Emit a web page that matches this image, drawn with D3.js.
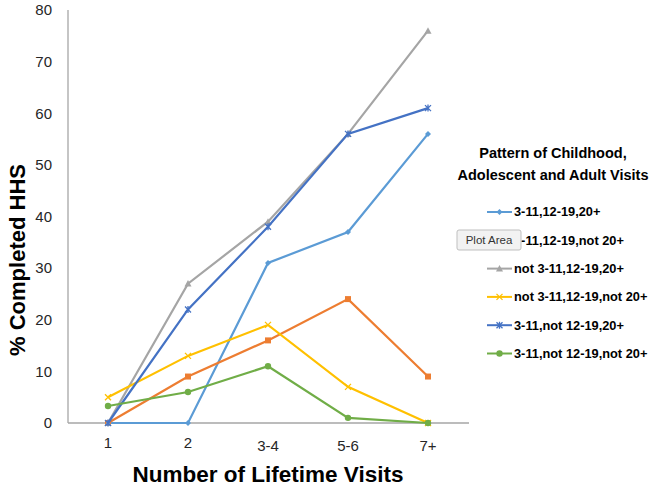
<!DOCTYPE html>
<html><head><meta charset="utf-8">
<script src="https://cdn.jsdelivr.net/npm/d3@7"></script>
<style>body{margin:0;background:#fff;} svg{display:block;font-family:"Liberation Sans",Arial,sans-serif;}</style>
</head><body>
<script>
const categories = ["1","2","3-4","5-6","7+"];
const yTicks = [0,10,20,30,40,50,60,70,80];
const seriesNames = ["3-11,12-19,20+","3-11,12-19,not 20+","not 3-11,12-19,20+","not 3-11,12-19,not 20+","3-11,not 12-19,20+","3-11,not 12-19,not 20+"];
const s1 = [0,0,31,37,56];
const s2 = [0,9,16,24,9];
const s3 = [0,27,39,56,76];
const s4 = [5,13,19,7,0];
const s5 = [0,22,38,56,61];
const s6 = [3.3,6,11,1,0];
const colors = ["#5B9BD5","#ED7D31","#A5A5A5","#FFC000","#4472C4","#70AD47"];
const markers = ["diamond","square","triangle","x","star","circle"];
const values = [s1,s2,s3,s4,s5,s6];

const W=660,H=489;
const svg=d3.select("body").append("svg").attr("width",W).attr("height",H);
const x=d3.scaleBand().domain(categories).range([68,468]);
const y=d3.scaleLinear().domain([0,80]).range([423,10]);

svg.append("line").attr("x1",68).attr("x2",68).attr("y1",10).attr("y2",423).attr("stroke","#A6A6A6").attr("stroke-width",1.3);
svg.append("line").attr("x1",68).attr("x2",469).attr("y1",423).attr("y2",423).attr("stroke","#A6A6A6").attr("stroke-width",1.3);

svg.append("g").selectAll("text").data(yTicks).join("text")
  .attr("x",52).attr("y",d=>y(d)).attr("dy","0.35em").attr("text-anchor","end")
  .attr("font-size",15).attr("fill","#262626").text(d=>d);
svg.append("g").selectAll("text").data(categories).join("text")
  .attr("x",d=>x(d)+x.bandwidth()/2).attr("y",(d,i)=>i<2?448:451).attr("text-anchor","middle")
  .attr("font-size",15).attr("fill","#262626").text(d=>d);

svg.append("text").attr("transform","translate(25,260) rotate(-90)").attr("text-anchor","middle")
  .attr("font-size",22).attr("font-weight","bold").attr("fill","#000").text("% Completed HHS");
svg.append("text").attr("x",268).attr("y",482).attr("text-anchor","middle")
  .attr("font-size",22.5).attr("font-weight","bold").attr("fill","#000").text("Number of Lifetime Visits");

function marker(g,type,cx,cy,c){
  if(type==="diamond") g.append("path").attr("d",`M${cx},${cy-3}L${cx+3},${cy}L${cx},${cy+3}L${cx-3},${cy}Z`).attr("fill",c);
  else if(type==="square") g.append("rect").attr("x",cx-3).attr("y",cy-3).attr("width",6).attr("height",6).attr("fill",c);
  else if(type==="triangle") g.append("path").attr("d",`M${cx},${cy-3.5}L${cx+3.5},${cy+3}L${cx-3.5},${cy+3}Z`).attr("fill",c);
  else if(type==="x") g.append("path").attr("d",`M${cx-3},${cy-3}L${cx+3},${cy+3}M${cx-3},${cy+3}L${cx+3},${cy-3}`).attr("stroke",c).attr("stroke-width",1.3);
  else if(type==="star") g.append("path").attr("d",`M${cx-3},${cy-3}L${cx+3},${cy+3}M${cx-3},${cy+3}L${cx+3},${cy-3}M${cx},${cy-3.5}L${cx},${cy+3.5}`).attr("stroke",c).attr("stroke-width",1.3);
  else g.append("circle").attr("cx",cx).attr("cy",cy).attr("r",3.2).attr("fill",c);
}

const line=d3.line().x((d,i)=>x(categories[i])+x.bandwidth()/2).y(d=>y(d));
values.forEach((vals,k)=>{
  const g=svg.append("g");
  g.append("path").attr("d",line(vals)).attr("fill","none").attr("stroke",colors[k]).attr("stroke-width",2.2);
  vals.forEach((v,i)=>marker(g,markers[k],x(categories[i])+x.bandwidth()/2,y(v),colors[k]));
});

const lg=svg.append("g");
lg.append("text").attr("x",553).attr("y",158).attr("text-anchor","middle").attr("font-size",14.5).attr("font-weight","bold").text("Pattern of Childhood,");
lg.append("text").attr("x",553).attr("y",180).attr("text-anchor","middle").attr("font-size",14.5).attr("font-weight","bold").text("Adolescent and Adult Visits");
seriesNames.forEach((n,k)=>{
  const yy=212+k*28.3;
  lg.append("line").attr("x1",487).attr("x2",512).attr("y1",yy).attr("y2",yy).attr("stroke",colors[k]).attr("stroke-width",2);
  marker(lg,markers[k],499.5,yy,colors[k]);
  lg.append("text").attr("x",514).attr("y",yy).attr("dy","0.35em").attr("font-size",12.8).attr("font-weight","bold").attr("fill","#000").text(n);
});
const tt=svg.append("g");
tt.append("rect").attr("x",457).attr("y",230).attr("width",64).attr("height",20).attr("rx",2).attr("fill","#F2F2F2").attr("stroke","#BFBFBF");
tt.append("text").attr("x",489).attr("y",240).attr("dy","0.35em").attr("text-anchor","middle").attr("font-size",11.5).attr("fill","#333").text("Plot Area");
</script>
</body></html>
